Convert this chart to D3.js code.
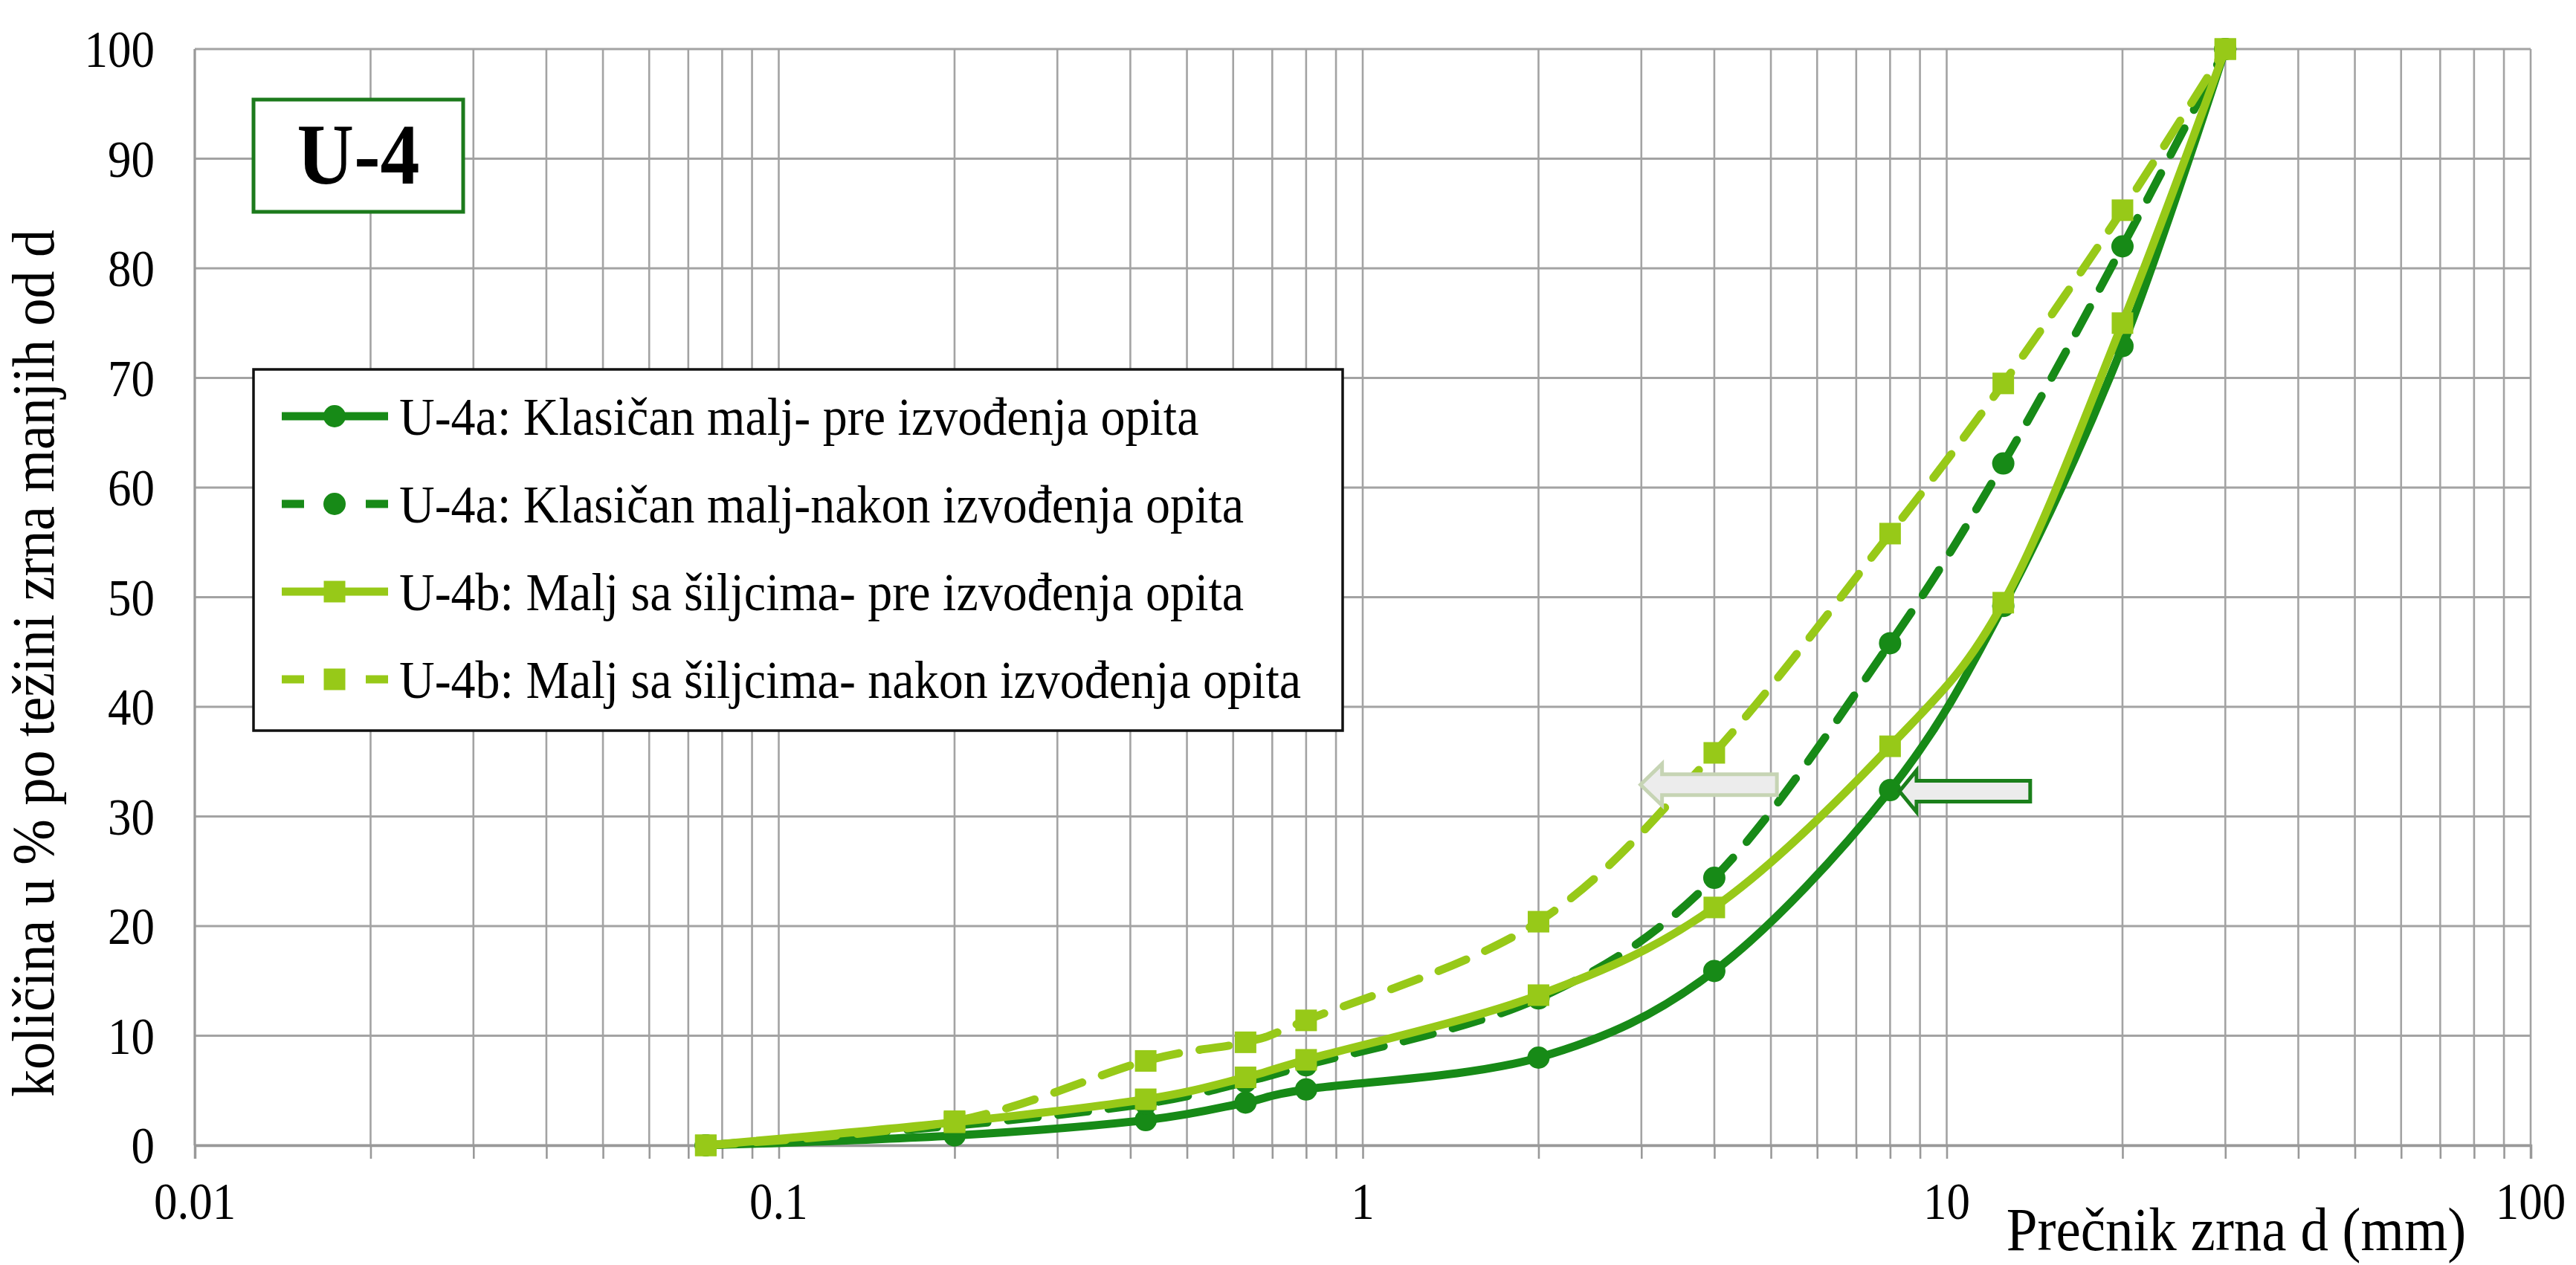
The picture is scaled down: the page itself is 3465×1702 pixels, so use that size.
<!DOCTYPE html>
<html><head><meta charset="utf-8">
<script src="https://cdn.jsdelivr.net/npm/d3@7"></script>
<style>body{margin:0;background:#fff}svg{display:block}</style>
</head><body>
<svg id="c" width="3465" height="1702"></svg>
<script>
// ---- data ----
const sizes = [0.075, 0.2, 0.425, 0.63, 0.8, 2, 4, 8, 12.5, 20, 30];
const u4aPre   = [0, 0.9, 2.3, 3.9, 5.1, 8.0, 15.9, 32.4, 49.2, 72.9, 100];
const u4aNakon = [0, 1.8, 3.8, 5.8, 7.3, 13.4, 24.4, 45.8, 62.2, 82.0, 100];
const u4bPre   = [0, 2.1, 4.2, 6.2, 7.8, 13.7, 21.7, 36.4, 49.5, 75.0, 100];
const u4bNakon = [0, 2.2, 7.7, 9.4, 11.4, 20.4, 35.8, 55.8, 69.5, 85.3, 100];
const seriesNames = [
  "U-4a: Klasičan malj- pre izvođenja opita",
  "U-4a: Klasičan malj-nakon izvođenja opita",
  "U-4b: Malj sa šiljcima- pre izvođenja opita",
  "U-4b: Malj sa šiljcima- nakon izvođenja opita"
];
const xTickValues = [0.01, 0.1, 1, 10, 100];
const xTickLabels = ["0.01", "0.1", "1", "10", "100"];
const yTickValues = [0, 10, 20, 30, 40, 50, 60, 70, 80, 90, 100];
const xTitle = "Prečnik zrna d (mm)";
const yTitle = "količina u % po težini zrna manjih od d";
const boxLabel = "U-4";

// ---- styling ----
const DARK = "#178a17", LIGHT = "#97c918";
const FONT = "'Liberation Serif','Times New Roman',serif";
const K = 1.1; // glyph vertical stretch (reference text is condensed)
const series = [
  {name: seriesNames[0], vals: u4aPre,   color: DARK,  dash: null,    marker: "circle"},
  {name: seriesNames[1], vals: u4aNakon, color: DARK,  dash: "40,28", marker: "circle"},
  {name: seriesNames[2], vals: u4bPre,   color: LIGHT, dash: null,    marker: "square"},
  {name: seriesNames[3], vals: u4bNakon, color: LIGHT, dash: "40,28", marker: "square"}
];

const svg = d3.select("#c");
const m = {left: 262, right: 3404, top: 66, bottom: 1541};
const x = d3.scaleLog().domain([0.01, 100]).range([m.left, m.right]);
const y = d3.scaleLinear().domain([0, 100]).range([m.bottom, m.top]);

function txt(parent, px, py, str, o = {}) {
  const g = parent.append("g")
    .attr("transform", `translate(${px},${py})${o.rotate ? ` rotate(${o.rotate})` : ""} scale(1,${K})`);
  const t = g.append("text").attr("x", 0).attr("y", 0)
    .attr("font-family", FONT).attr("font-size", o.size || 64)
    .attr("text-anchor", o.anchor || "start").attr("fill", "#000").text(str);
  if (o.dy) t.attr("dy", o.dy);
  if (o.bold) t.attr("font-weight", "bold");
  return t;
}

// grid values (log minor)
const xGrid = [];
[0.01, 0.1, 1, 10].forEach(d => { for (let k = 1; k <= 9; k++) xGrid.push(+(k * d).toPrecision(3)); });
xGrid.push(100);

const grid = svg.append("g");
grid.selectAll("line.v").data(xGrid).join("line")
  .attr("x1", d => x(d)).attr("x2", d => x(d))
  .attr("y1", m.top).attr("y2", m.bottom)
  .attr("stroke", "#a3a3a3").attr("stroke-width", 2.6);
grid.selectAll("line.h").data(yTickValues).join("line")
  .attr("x1", m.left).attr("x2", m.right)
  .attr("y1", d => y(d)).attr("y2", d => y(d))
  .attr("stroke", "#a3a3a3").attr("stroke-width", 3);

// x axis ticks
const xAxis = d3.axisBottom(x).tickValues(xGrid).tickSize(18).tickFormat("");
const gx = svg.append("g").attr("transform", `translate(0,${m.bottom})`).call(xAxis);
gx.select(".domain").attr("stroke", "#999").attr("stroke-width", 3.5);
gx.selectAll(".tick line").attr("stroke", "#999").attr("stroke-width", 2.6);
svg.append("line").attr("x1", m.left).attr("x2", m.left).attr("y1", m.top).attr("y2", m.bottom)
  .attr("stroke", "#999").attr("stroke-width", 3);

// tick labels
const gxl = svg.append("g");
xTickValues.forEach((v, i) => txt(gxl, x(v), 1616, xTickLabels[i], {anchor: "middle", dy: "0.35em", size: 63}));
const gyl = svg.append("g");
yTickValues.forEach(v => txt(gyl, 208, y(v), String(v), {anchor: "end", dy: "0.35em", size: 63}));

// axis titles
txt(svg, 3008, 1682, xTitle, {anchor: "middle", size: 75});
txt(svg, 72, 1476, yTitle, {anchor: "start", size: 74, rotate: -90});

// series lines
const line = d3.line().x(d => x(d[0])).y(d => y(d[1])).curve(d3.curveCardinal.tension(0));
const gS = svg.append("g");
series.forEach(s => {
  const pts = sizes.map((v, i) => [v, s.vals[i]]);
  gS.append("path").datum(pts).attr("d", line)
    .attr("fill", "none").attr("stroke", s.color).attr("stroke-width", 11)
    .attr("stroke-linecap", s.dash ? "round" : "butt")
    .attr("stroke-dasharray", s.dash);
  if (s.marker === "circle") {
    gS.append("g").selectAll("circle").data(pts).join("circle")
      .attr("cx", d => x(d[0])).attr("cy", d => y(d[1])).attr("r", 15).attr("fill", s.color);
  } else {
    gS.append("g").selectAll("rect").data(pts).join("rect")
      .attr("x", d => x(d[0]) - 14.5).attr("y", d => y(d[1]) - 14.5)
      .attr("width", 29).attr("height", 29).attr("fill", s.color);
  }
});

// arrows (annotations placed via scales)
function arrow(tipX, tailX, yv, headLen, fill, stroke) {
  const tx = x(tipX), ex = x(tailX), cy = y(yv);
  const sh = 14, hh = 28;
  const hx = tx + headLen;
  const p = `M${tx},${cy} L${hx},${cy - hh} L${hx},${cy - sh} L${ex},${cy - sh} L${ex},${cy + sh} L${hx},${cy + sh} L${hx},${cy + hh} Z`;
  svg.append("path").attr("d", p).attr("fill", fill).attr("stroke", stroke).attr("stroke-width", 5)
    .attr("stroke-linejoin", "miter");
}
arrow(2.99, 5.12, 32.9, 29, "#ececec", "#c6d4b4");
arrow(8.3, 13.9, 32.3, 23, "#ececec", "#1a7f1a");

// legend
const lg = svg.append("g");
lg.append("rect").attr("x", 341).attr("y", 497).attr("width", 1465).attr("height", 486)
  .attr("fill", "#fff").attr("stroke", "#111").attr("stroke-width", 3.5);
const ly = [560, 678, 796, 914];
series.forEach((s, i) => {
  const g = lg.append("g");
  g.append("line").attr("x1", 379).attr("x2", 522).attr("y1", ly[i]).attr("y2", ly[i])
    .attr("stroke", s.color).attr("stroke-width", 11)
    .attr("stroke-dasharray", s.dash ? "30,83,30" : null);
  if (s.marker === "circle") g.append("circle").attr("cx", 450).attr("cy", ly[i]).attr("r", 15).attr("fill", s.color);
  else g.append("rect").attr("x", 435.5).attr("y", ly[i] - 14.5).attr("width", 29).attr("height", 29).attr("fill", s.color);
  txt(g, 537, ly[i], s.name, {dy: "0.35em", size: 66});
});

// U-4 box
svg.append("rect").attr("x", 341).attr("y", 134).attr("width", 282).attr("height", 151)
  .attr("fill", "#fff").attr("stroke", "#1c7a1c").attr("stroke-width", 5);
txt(svg, 482, 247, boxLabel, {anchor: "middle", size: 106, bold: true});
</script>
</body></html>
